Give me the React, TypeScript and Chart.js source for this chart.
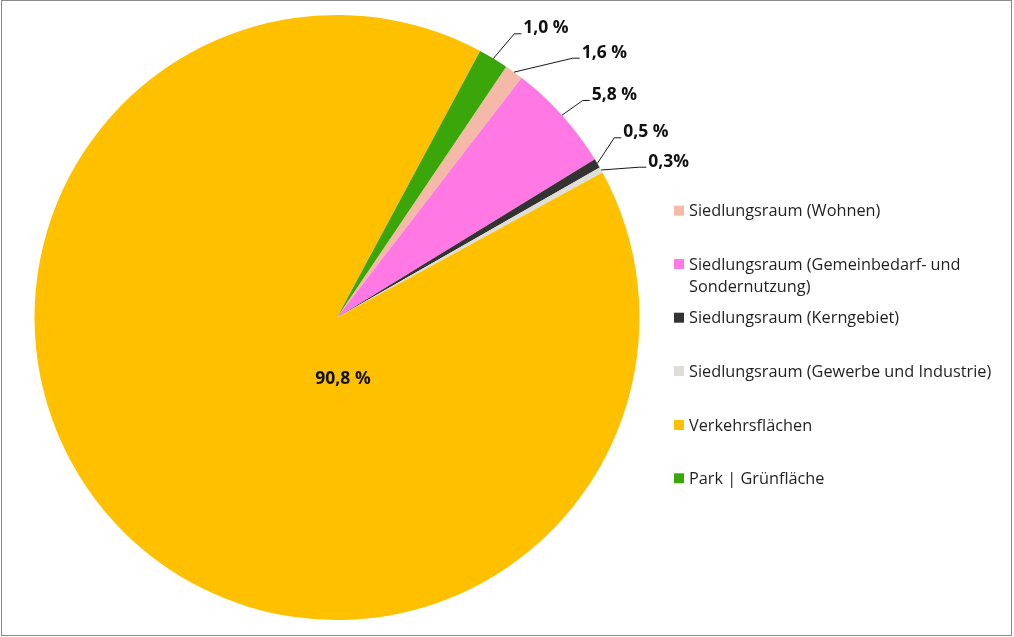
import { useEffect, useRef } from "react";
import { Chart, registerables } from "chart.js";

Chart.register(...registerables);

const categories = [
  "Siedlungsraum (Wohnen)",
  "Siedlungsraum (Gemeinbedarf- und Sondernutzung)",
  "Siedlungsraum (Kerngebiet)",
  "Siedlungsraum (Gewerbe und Industrie)",
  "Verkehrsflächen",
  "Park | Grünfläche",
];
const shares = [1.0, 5.8, 0.5, 0.3, 90.8, 1.6];
const valueLabels = ["1,6 %", "5,8 %", "0,5 %", "0,3%", "90,8 %", "1,0 %"];
const colors = ["#F4B9A7", "#FF78E4", "#333333", "#DEDED6", "#FFC000", "#3AA60A"];

// Styling / placement (not data)
const LABEL_FONT = 'bold 17.5px "Open Sans"';
const LEGEND_FONT = '16.3px "Open Sans"';
const TEXT_COLOR = "#111111";
const labelPlacement = [
  { x: 581.7, y: 57.7, inside: false },
  { x: 591.7, y: 100, inside: false },
  { x: 623.3, y: 137.3, inside: false },
  { x: 648.3, y: 166.7, inside: false },
  { x: 343, y: 384, inside: true },
  { x: 523.3, y: 33.3, inside: false },
];
const legendRows = [210.7, 264, 317.7, 371, 425, 478.3];
const LEGEND_BOX_X = 674;
const LEGEND_TEXT_X = 689;
const LEGEND_LINE_H = 22.7;
const LEGEND_WRAP = 315;

function wrap(ctx: CanvasRenderingContext2D, text: string, maxW: number): string[] {
  const words = text.split(" ");
  const lines: string[] = [];
  let cur = "";
  for (const w of words) {
    const t = cur ? cur + " " + w : w;
    if (ctx.measureText(t).width > maxW && cur) {
      lines.push(cur);
      cur = w;
    } else cur = t;
  }
  if (cur) lines.push(cur);
  return lines;
}

const overlayPlugin = {
  id: "overlay",
  afterDraw(chart: any) {
    const ctx: CanvasRenderingContext2D = chart.ctx;
    const meta = chart.getDatasetMeta(0);
    ctx.save();
    ctx.font = LABEL_FONT;
    ctx.fillStyle = TEXT_COLOR;
    ctx.textBaseline = "alphabetic";
    meta.data.forEach((arc: any, i: number) => {
      const p = labelPlacement[i];
      const { x, y, startAngle, endAngle, outerRadius } = arc.getProps(
        ["x", "y", "startAngle", "endAngle", "outerRadius"],
        true
      );
      if (p.inside) {
        ctx.textAlign = "center";
        ctx.fillText(valueLabels[i], p.x, p.y);
        return;
      }
      const mid = (startAngle + endAngle) / 2;
      const rx = x + Math.cos(mid) * outerRadius;
      const ry = y + Math.sin(mid) * outerRadius;
      ctx.strokeStyle = "#1a1a1a";
      ctx.lineWidth = 1;
      ctx.beginPath();
      ctx.moveTo(p.x - 2, p.y + 0.5);
      ctx.lineTo(p.x - 9, p.y + 0.5);
      ctx.lineTo(rx, ry);
      ctx.stroke();
      ctx.textAlign = "left";
      ctx.fillText(valueLabels[i], p.x, p.y);
    });
    ctx.font = LEGEND_FONT;
    ctx.textAlign = "left";
    ctx.textBaseline = "middle";
    categories.forEach((c, i) => {
      const cy = legendRows[i];
      ctx.fillStyle = colors[i];
      ctx.fillRect(LEGEND_BOX_X, cy - 5, 10, 10);
      ctx.fillStyle = "#1f1f1f";
      const lines = wrap(ctx, c, LEGEND_WRAP);
      lines.forEach((ln, k) => ctx.fillText(ln, LEGEND_TEXT_X, cy + 1 + k * LEGEND_LINE_H));
    });
    ctx.strokeStyle = "#8a8a8a";
    ctx.lineWidth = 1;
    ctx.strokeRect(1.5, 0.5, 1010, 635);
    ctx.restore();
  },
};

export default function App() {
  const ref = useRef<HTMLCanvasElement | null>(null);
  useEffect(() => {
    document.body.style.margin = "0";
    const canvas = ref.current!;
    const chart = new Chart(canvas, {
      type: "pie",
      data: {
        labels: categories,
        datasets: [
          {
            data: shares,
            backgroundColor: colors,
            borderWidth: 0,
          },
        ],
      },
      options: {
        animation: false,
        responsive: false,
        devicePixelRatio: 1,
        rotation: 34,
        layout: { padding: { left: 34, right: 374, top: 15, bottom: 17 } },
        plugins: {
          legend: { display: false },
          tooltip: { enabled: false },
        },
        events: [],
      },
      plugins: [
        {
          id: "bg",
          beforeDraw(c: any) {
            c.ctx.save();
            c.ctx.fillStyle = "#ffffff";
            c.ctx.fillRect(0, 0, c.width, c.height);
            c.ctx.restore();
          },
        },
        overlayPlugin,
      ],
    });
    return () => chart.destroy();
  }, []);
  return (
    <div style={{ width: 1014, height: 637 }}>
      <canvas ref={ref} width={1014} height={637} style={{ display: "block" }} />
    </div>
  );
}
